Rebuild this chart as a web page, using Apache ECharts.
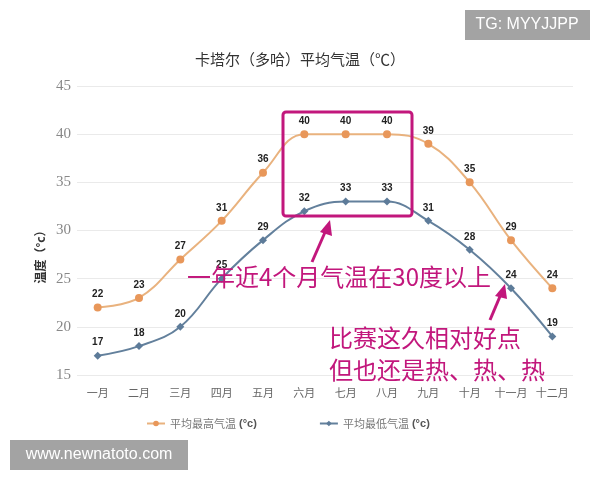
<!DOCTYPE html>
<html>
<head>
<meta charset="utf-8">
<script src="https://cdn.jsdelivr.net/npm/echarts@6/dist/echarts.min.js"></script>
<style>
  html, body { margin: 0; padding: 0; background: #fff; }
  #main { width: 600px; height: 480px; }
</style>
</head>
<body>
<div id="main"></div>
<script>
var months = ['一月', '二月', '三月', '四月', '五月', '六月', '七月', '八月', '九月', '十月', '十一月', '十二月'];
var highTemps = [22, 23, 27, 31, 36, 40, 40, 40, 39, 35, 29, 24];
var lowTemps = [17, 18, 20, 25, 29, 32, 33, 33, 31, 28, 24, 19];
var highName = '平均最高气温';
var lowName = '平均最低气温';

var pink = '#c2177c';
var myChart = echarts.init(document.getElementById('main'));

var labelStyle = {
    show: true,
    position: 'top',
    color: '#222',
    fontSize: 10,
    fontWeight: 'bold',
    fontFamily: 'Liberation Sans, Arial',
    distance: 4
};

var option = {
    backgroundColor: '#fff',
    title: {
        text: '卡塔尔（多哈）平均气温（℃）',
        left: 'center',
        top: 47,
        textStyle: { fontSize: 15, fontWeight: 'normal', color: '#333', fontFamily: 'Noto Sans CJK SC' }
    },
    legend: {
        top: 413,
        left: 141,
        itemGap: 62,
        itemWidth: 18,
        itemHeight: 7,
        formatter: function (name) {
            return '{n|' + name + '} {u|(°c)}';
        },
        textStyle: {
            color: '#777',
            fontSize: 11,
            rich: {
                n: { fontSize: 11, color: '#777', fontFamily: 'Noto Sans CJK SC' },
                u: { fontSize: 11, color: '#555', fontWeight: 'bold', fontFamily: 'Liberation Sans' }
            }
        },
        data: [highName, lowName]
    },
    grid: { left: 77, right: 27, top: 86, bottom: 105 },
    xAxis: {
        type: 'category',
        data: months,
        boundaryGap: true,
        axisLine: { show: false },
        axisTick: { show: false },
        axisLabel: { color: '#666', fontSize: 11, margin: 12, interval: 0, hideOverlap: false, fontFamily: 'Noto Sans CJK SC' }
    },
    yAxis: {
        type: 'value',
        min: 15,
        max: 45,
        interval: 5,
        axisLabel: { color: '#888', fontSize: 15, fontFamily: 'Liberation Serif', margin: 6 },
        splitLine: { lineStyle: { color: '#eaeaea' } }
    },
    series: [
        {
            name: highName,
            type: 'line',
            data: highTemps,
            smooth: 0.4,
            symbol: 'circle',
            symbolSize: 8,
            itemStyle: { color: '#e8975a' },
            lineStyle: { color: '#e9b27e', width: 2 },
            label: labelStyle
        },
        {
            name: lowName,
            type: 'line',
            data: lowTemps,
            smooth: 0.4,
            symbol: 'diamond',
            symbolSize: 8,
            itemStyle: { color: '#5d7b99' },
            lineStyle: { color: '#63809c', width: 2 },
            label: labelStyle
        }
    ],
    graphic: [
        // y axis name, placed lower than the axis middle as in the picture
        {
            type: 'text',
            x: 40,
            y: 254,
            rotation: Math.PI / 2,
            style: { text: '温度（°c）', fill: '#333', fontSize: 12, fontWeight: 'bold', fontFamily: 'Noto Sans CJK SC', align: 'center', verticalAlign: 'middle' }
        },
        {
            type: 'rect',
            shape: { x: 283, y: 112, width: 129, height: 104, r: 3 },
            style: { fill: null, stroke: pink, lineWidth: 3 },
            z: 100
        },
        {
            type: 'line',
            shape: { x1: 312, y1: 262, x2: 326, y2: 230 },
            style: { stroke: pink, lineWidth: 3 },
            z: 100
        },
        {
            type: 'polygon',
            shape: { points: [[330, 220], [320, 232], [332, 236]] },
            style: { fill: pink },
            z: 100
        },
        {
            type: 'line',
            shape: { x1: 490, y1: 320, x2: 501, y2: 294 },
            style: { stroke: pink, lineWidth: 3 },
            z: 100
        },
        {
            type: 'polygon',
            shape: { points: [[505, 284], [495, 296], [507, 299]] },
            style: { fill: pink },
            z: 100
        },
        {
            type: 'text',
            left: 187,
            top: 265,
            style: { text: '一年近4个月气温在30度以上', fill: pink, fontSize: 24, fontFamily: 'Noto Sans CJK SC' },
            z: 100
        },
        {
            type: 'text',
            left: 329,
            top: 326,
            style: { text: '比赛这久相对好点', fill: pink, fontSize: 24, fontFamily: 'Noto Sans CJK SC' },
            z: 100
        },
        {
            type: 'text',
            left: 329,
            top: 358,
            style: { text: '但也还是热、热、热', fill: pink, fontSize: 24, fontFamily: 'Noto Sans CJK SC' },
            z: 100
        },
        {
            type: 'group',
            left: 465,
            top: 10,
            z: 110,
            children: [
                { type: 'rect', shape: { x: 0, y: 0, width: 125, height: 30 }, style: { fill: '#a3a3a3' } },
                { type: 'text', x: 62, y: 15, style: { text: 'TG: MYYJJPP', fill: '#fff', fontSize: 16, fontFamily: 'Liberation Sans', align: 'center', verticalAlign: 'middle' } }
            ]
        },
        {
            type: 'group',
            left: 10,
            top: 440,
            z: 110,
            children: [
                { type: 'rect', shape: { x: 0, y: 0, width: 178, height: 30 }, style: { fill: '#a3a3a3' } },
                { type: 'text', x: 89, y: 15, style: { text: 'www.newnatoto.com', fill: '#fff', fontSize: 16, fontFamily: 'Liberation Sans', align: 'center', verticalAlign: 'middle' } }
            ]
        }
    ]
};

myChart.setOption(option);
</script>
</body>
</html>
